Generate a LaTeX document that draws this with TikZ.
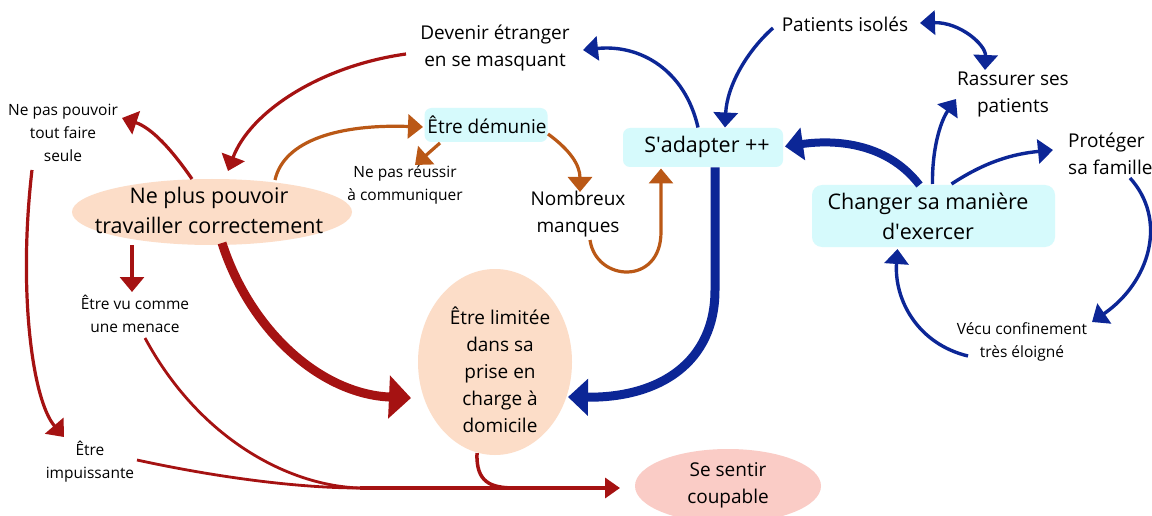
\documentclass[tikz,border=0pt]{standalone}
\usepackage{fontspec}
\setmainfont{Open Sans}
\usetikzlibrary{arrows.meta,shapes.geometric,calc}
\definecolor{cred}{RGB}{165,18,18}
\definecolor{cblue}{RGB}{12,38,150}
\definecolor{corange}{RGB}{186,88,22}
\definecolor{peach}{RGB}{252,221,200}
\definecolor{cyanbox}{RGB}{214,250,252}
\definecolor{pinkell}{RGB}{250,204,198}
\begin{document}
\begin{tikzpicture}[x=1pt,y=-1pt,
  big/.style={font=\fontsize{21.5}{30}\selectfont, align=center, inner sep=0pt},
  med/.style={font=\fontsize{19}{27}\selectfont, align=center, inner sep=0pt},
  sml/.style={font=\fontsize{15.5}{23}\selectfont, align=center, inner sep=0pt},
  cbox/.style={fill=cyanbox, rounded corners=7pt, inner sep=0pt},
  ellshape/.style={ellipse, inner sep=0pt},
  redl/.style={draw=cred, line width=3.2pt},
  bluel/.style={draw=cblue, line width=3.4pt},
  orl/.style={draw=corange, line width=3.2pt},
  headn/.style={-{Triangle[length=15pt,width=24pt]}},
  headb/.style={{Triangle[length=15pt,width=24pt]}-{Triangle[length=15pt,width=24pt]}},
]
\useasboundingbox (0,0) rectangle (1152,516);
\fill[white] (0,0) rectangle (1152,516);

% shapes
\node[ellshape, fill=peach, minimum width=280pt, minimum height=66pt] (np) at (212,212) {};
\node[ellshape, fill=peach, minimum width=154pt, minimum height=186pt] (lim) at (495,362) {};
\node[ellshape, fill=pinkell, minimum width=186pt, minimum height=74pt] (sc) at (728,486) {};
\node[cbox, minimum width=123pt, minimum height=34pt] (dem) at (486,125) {};
\node[cbox, minimum width=160pt, minimum height=39pt] (sad) at (703,147.5) {};
\node[cbox, minimum width=243pt, minimum height=62pt, rounded corners=10pt] (chg) at (933.5,216) {};

% texts
\node[big] (npt) at (209,210) {Ne plus pouvoir\\travailler correctement};
\node[med] (limt) at (500,370) {Être limitée\\dans sa\\prise en\\charge à\\domicile};
\node[med] (sct) at (728,485) {Se sentir\\coupable};
\node[med] (demt) at (487,125) {Être démunie};
\node[big] (sadt) at (707,147) {S\textquotesingle adapter ++};
\node[big] (chgt) at (928,216) {Changer sa manière\\d\textquotesingle exercer};
\node[med] (dev) at (495,48) {Devenir étranger\\en se masquant};
\node[med] (pat) at (845,24) {Patients isolés};
\node[med] (ras) at (1013,95) {Rassurer ses\\patients};
\node[med, align=left, anchor=west] (pro) at (1068,154) {Protéger\\sa famille};
\node[sml] (npp) at (63,133) {Ne pas pouvoir\\tout faire\\seule};
\node[sml] (nre) at (405,185) {Ne pas réussir\\à communiquer};
\node[med] (nom) at (578,214) {Nombreux\\manques};
\node[sml] (vu) at (135,314) {Être vu comme\\une menace};
\node[sml] (imp) at (90,462) {Être\\impuissante};
\node[sml] (vec) at (1022,342) {Vécu confinement\\très éloigné};

% free ends
\coordinate (m1) at (360,488);
\coordinate (m2) at (515,488);

% red connectors
\draw[redl, headn] ($(dev)+(-89,6)$) .. controls (320,66) and (250,112) .. ($(np)+(16,-41)$);
\draw[redl, headn] ($(np)+(-20,-33)$) .. controls (172,150) and (152,128) .. ($(npp)+(59,-15)$);
\draw[redl, headn] ($(np)+(-80,33)$) -- ($(vu)+(-3,-22)$);
\draw[draw=cred, line width=9pt, -{Triangle[length=22pt,width=42pt]}] ($(np)+(10,31)$) .. controls (250,330) and (320,394) .. ($(lim)+(-84,36)$);
\draw[redl, headn] ($(npp)+(-31,37)$) .. controls (18,290) and (32,400) .. ($(imp)+(-26,-25)$);
\draw[draw=cred, line width=2.8pt] ($(vu)+(10,24)$) .. controls (200,440) and (290,486) .. (m1);
\draw[draw=cred, line width=2.8pt] ($(imp)+(47,-2)$) .. controls (220,478) and (300,488) .. (m1);
\draw[draw=cred, line width=3.5pt] ($(lim)+(-18,91)$) .. controls (476,482) and (490,488) .. (m2);
\draw[draw=cred, line width=3.5pt, -{Triangle[length=15pt,width=20pt]}] (m1) -- ($(sc)+(-108,2)$);

% orange connectors
\draw[orl, headn] ($(np)+(63,-32)$) .. controls (284,140) and (340,124) .. ($(dem)+(-63,2)$);
\draw[orl, headn] ($(dem)+(-46,18)$) -- ($(nre)+(10,-20)$);
\draw[orl, headn] ($(dem)+(62,9)$) .. controls (570,150) and (580,165) .. ($(nom)+(2,-22)$);
\draw[orl, headn] ($(nom)+(12,26)$) .. controls (596,282) and (661,286) .. (661,232) -- ($(sad)+(-42,21)$);

% blue connectors
\draw[bluel, headn] ($(sad)+(-5,-20)$) .. controls (685,70) and (640,44) .. ($(dev)+(88,2)$);
\draw[bluel, headn] ($(pat)+(-72,4)$) .. controls (748,50) and (727,85) .. ($(sad)+(22,-20)$);
\draw[bluel, headb] ($(pat)+(75,-1)$) .. controls (960,22) and (986,45) .. ($(ras)+(-28,-25)$);
\draw[draw=cblue, line width=8pt, -{Triangle[length=18pt,width=32pt]}] ($(chg)+(-14,-31)$) .. controls (885,140) and (830,140) .. ($(sad)+(82,-1)$);
\draw[bluel, headn] ($(chg)+(-1,-32)$) .. controls (932,150) and (940,122) .. ($(ras)+(-57,4)$);
\draw[bluel, headn] ($(chg)+(18,-32)$) .. controls (985,162) and (1012,154) .. ($(pro.west)+(-15,-4)$);
\draw[draw=cblue, line width=9pt, -{Triangle[length=20pt,width=36pt]}] ($(sad)+(12,20)$) -- (715,290) .. controls (715,362) and (660,398) .. ($(lim)+(73,35)$);
\draw[bluel, headn] ($(pro.west)+(62,24)$) .. controls (1168,220) and (1150,282) .. ($(vec)+(70,-20)$);
\draw[bluel, headn] ($(vec)+(-54,14)$) .. controls (918,344) and (894,300) .. ($(chg)+(-36,33)$);
\end{tikzpicture}
\end{document}
